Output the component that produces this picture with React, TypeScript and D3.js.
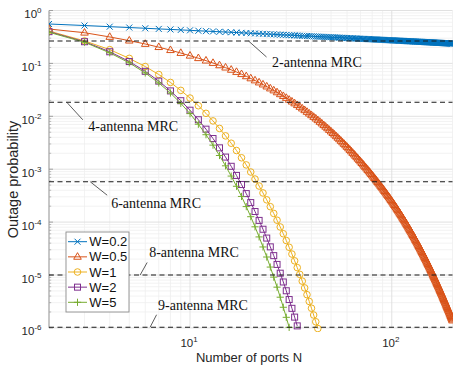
import React from 'react';
import * as d3 from 'd3';

// x axis: number of ports N, one point per integer N starting at 2
const firstPort = 2;

// log10 of the outage probability, N = 2, 3, 4, ...
const logOutW02 = [
  -0.255, -0.284, -0.306, -0.322, -0.336, -0.348, -0.358, -0.367, -0.375,
  -0.383, -0.390, -0.396, -0.402, -0.407, -0.412, -0.417, -0.422, -0.426, -0.430,
  -0.434, -0.438, -0.441, -0.445, -0.448, -0.451, -0.454, -0.457, -0.460, -0.463,
  -0.466, -0.468, -0.471, -0.473, -0.476, -0.478, -0.480, -0.482, -0.485, -0.487,
  -0.489, -0.491, -0.493, -0.495, -0.496, -0.498, -0.500, -0.502, -0.504, -0.505,
  -0.507, -0.508, -0.510, -0.512, -0.513, -0.515, -0.516, -0.518, -0.519, -0.521,
  -0.522, -0.524, -0.525, -0.526, -0.528, -0.529, -0.530, -0.532, -0.533, -0.534,
  -0.535, -0.536, -0.537, -0.538, -0.540, -0.541, -0.542, -0.543, -0.544, -0.545,
  -0.546, -0.547, -0.548, -0.549, -0.550, -0.551, -0.552, -0.553, -0.554, -0.555,
  -0.556, -0.557, -0.558, -0.559, -0.560, -0.560, -0.561, -0.562, -0.563, -0.564,
  -0.565, -0.566, -0.566, -0.567, -0.568, -0.569, -0.570, -0.570, -0.571, -0.572,
  -0.573, -0.574, -0.574, -0.575, -0.576, -0.577, -0.578, -0.578, -0.579, -0.580,
  -0.581, -0.581, -0.582, -0.583, -0.583, -0.584, -0.585, -0.586, -0.586, -0.587,
  -0.588, -0.588, -0.589, -0.589, -0.590, -0.591, -0.591, -0.592, -0.592, -0.593,
  -0.594, -0.594, -0.595, -0.596, -0.596, -0.597, -0.598, -0.598, -0.599, -0.600,
  -0.600, -0.601, -0.601, -0.602, -0.602, -0.603, -0.603, -0.604, -0.604, -0.605,
  -0.606, -0.606, -0.607, -0.607, -0.608, -0.609, -0.609, -0.610, -0.610, -0.611,
  -0.611, -0.612, -0.612, -0.613, -0.613, -0.614, -0.614, -0.615, -0.615, -0.616,
  -0.616, -0.617, -0.617, -0.618, -0.618, -0.619, -0.619, -0.620, -0.620, -0.621,
  -0.621, -0.622, -0.622, -0.623, -0.623, -0.623, -0.624, -0.624, -0.625, -0.625,
];

const logOutW05 = [
  -0.350, -0.420, -0.500, -0.570, -0.633, -0.693, -0.750, -0.804, -0.855,
  -0.902, -0.948, -0.993, -1.037, -1.080, -1.122, -1.163, -1.204, -1.244, -1.284,
  -1.323, -1.362, -1.400, -1.438, -1.475, -1.512, -1.548, -1.584, -1.619, -1.654,
  -1.689, -1.723, -1.757, -1.790, -1.822, -1.854, -1.886, -1.918, -1.950, -1.981,
  -2.013, -2.044, -2.075, -2.106, -2.137, -2.168, -2.198, -2.228, -2.259, -2.289,
  -2.318, -2.348, -2.378, -2.407, -2.436, -2.466, -2.495, -2.523, -2.552, -2.580,
  -2.609, -2.637, -2.665, -2.693, -2.721, -2.748, -2.776, -2.803, -2.830, -2.857,
  -2.884, -2.910, -2.937, -2.963, -2.989, -3.015, -3.041, -3.067, -3.093, -3.118,
  -3.143, -3.168, -3.193, -3.218, -3.243, -3.268, -3.292, -3.316, -3.341, -3.365,
  -3.390, -3.414, -3.438, -3.463, -3.487, -3.511, -3.535, -3.559, -3.583, -3.607,
  -3.631, -3.655, -3.679, -3.703, -3.727, -3.751, -3.775, -3.799, -3.823, -3.846,
  -3.870, -3.894, -3.918, -3.941, -3.965, -3.988, -4.012, -4.035, -4.059, -4.082,
  -4.106, -4.129, -4.153, -4.176, -4.199, -4.223, -4.246, -4.269, -4.292, -4.315,
  -4.339, -4.362, -4.385, -4.408, -4.431, -4.454, -4.477, -4.500, -4.522, -4.545,
  -4.568, -4.591, -4.614, -4.636, -4.659, -4.682, -4.704, -4.727, -4.750, -4.772,
  -4.795, -4.817, -4.840, -4.862, -4.885, -4.907, -4.929, -4.952, -4.974, -4.996,
  -5.018, -5.040, -5.063, -5.085, -5.107, -5.129, -5.151, -5.173, -5.195, -5.217,
  -5.239, -5.261, -5.283, -5.304, -5.326, -5.348, -5.370, -5.391, -5.413, -5.435,
  -5.456, -5.478, -5.499, -5.521, -5.542, -5.564, -5.585, -5.607, -5.628, -5.649,
  -5.671, -5.692, -5.713, -5.734, -5.755, -5.777, -5.798, -5.819, -5.840, -5.861,
];

const logOutW1 = [
  -0.388, -0.575, -0.740, -0.905, -1.060, -1.210, -1.360, -1.510, -1.655,
  -1.800, -1.944, -2.087, -2.229, -2.370, -2.509, -2.647, -2.784, -2.919, -3.053,
  -3.186, -3.318, -3.449, -3.579, -3.708, -3.836, -3.964, -4.092, -4.220, -4.348,
  -4.476, -4.604, -4.732, -4.860, -4.988, -5.116, -5.244, -5.372, -5.500, -5.628,
  -5.756, -5.884, -6.012,
];

const logOutW2 = [
  -0.400, -0.590, -0.780, -0.965, -1.150, -1.335, -1.520, -1.705, -1.885,
  -2.065, -2.243, -2.420, -2.596, -2.771, -2.945, -3.118, -3.290, -3.461, -3.631,
  -3.800, -3.968, -4.135, -4.302, -4.468, -4.634, -4.800, -4.966, -5.132, -5.298,
  -5.464, -5.630, -5.796, -5.962,
];

const logOutW5 = [
  -0.412, -0.600, -0.800, -0.990, -1.180, -1.370, -1.560, -1.755, -1.950,
  -2.150, -2.348, -2.545, -2.741, -2.936, -3.130, -3.323, -3.515, -3.707, -3.898,
  -4.089, -4.280, -4.470, -4.660, -4.850, -5.040, -5.230, -5.420, -5.610, -5.800,
  -5.990,
];

const seriesNames = ['W=0.2', 'W=0.5', 'W=1', 'W=2', 'W=5'];
const seriesValues = [logOutW02, logOutW05, logOutW1, logOutW2, logOutW5];
const seriesColors = ['#0072BD', '#D95319', '#EDB120', '#7E2F8E', '#77AC30'];
const seriesMarkers = ['x', 'triangle', 'circle', 'square', 'plus'];

// MRC reference levels (dashed lines)
const mrcLabels = ['2-antenna MRC', '4-antenna MRC', '6-antenna MRC', '8-antenna MRC', '9-antenna MRC'];
const mrcLevels = [0.265, 0.0184, 5.8e-4, 1.0e-5, 1.03e-6];
const mrcPointerN = [19.5, 2.45, 3.2, 5.66, 6.34];

const xTickValues = [10, 100];
const xTickExps = ['1', '2'];
const yTickValues = [1, 1e-1, 1e-2, 1e-3, 1e-4, 1e-5, 1e-6];
const yTickExps = ['0', '-1', '-2', '-3', '-4', '-5', '-6'];

const W = 453;
const H = 372;
const plot = { left: 49, right: 452.5, top: 10.5, bottom: 327.9 };

// leader line end / text start offsets from the pointer tip, in px
const labelOffsets = [
  { lx: 18, ly: 16, tx: 23.5, ty: 26 },
  { lx: 16, ly: 17.5, tx: 21.5, ty: 28.5 },
  { lx: 17, ly: 13.5, tx: 21, ty: 26 },
  { lx: 7, ly: -12.5, tx: 9, ty: -18.5 },
  { lx: 6.5, ly: -12.5, tx: 8, ty: -17.5 },
];

const sans = '"Liberation Sans", Arial, Helvetica, sans-serif';
const serif = '"Liberation Serif", "Times New Roman", serif';

function Marker({ kind, x, y, color }: { kind: string; x: number; y: number; color: string }) {
  const common = { fill: 'none', stroke: color, strokeWidth: 1 };
  if (kind === 'circle') return <circle cx={x} cy={y} r={3.3} {...common} />;
  if (kind === 'square') return <rect x={x - 3} y={y - 3} width={6} height={6} {...common} />;
  if (kind === 'triangle')
    return <path d={`M${x},${y - 4.2}L${x + 3.8},${y + 2.4}L${x - 3.8},${y + 2.4}Z`} {...common} />;
  if (kind === 'x')
    return <path d={`M${x - 3},${y - 3}L${x + 3},${y + 3}M${x - 3},${y + 3}L${x + 3},${y - 3}`} {...common} />;
  return <path d={`M${x - 3.6},${y}H${x + 3.6}M${x},${y - 3.6}V${y + 3.6}`} {...common} />;
}

export default function App() {
  const x = d3.scaleLog().domain([2, 200]).range([plot.left, plot.right]);
  const y = d3.scaleLog().domain([1e-6, 1]).range([plot.bottom, plot.top]);

  const xMinor: number[] = [];
  [1, 10, 100].forEach((d) => {
    for (let k = 2; k <= 9; k++) {
      const v = k * d;
      if (v > 2 && v < 200) xMinor.push(v);
    }
  });
  const xMinorAll = xMinor.concat([200]);
  const yMinor: number[] = [];
  yTickValues.forEach((d) => {
    for (let k = 2; k <= 9; k++) {
      const v = k * d;
      if (v < 1) yMinor.push(v);
    }
  });

  const series = seriesNames.map((name, i) => ({
    name,
    color: seriesColors[i],
    marker: seriesMarkers[i],
    points: seriesValues[i].map((v, j) => ({ n: firstPort + j, p: Math.pow(10, v) })),
  }));

  const line = d3
    .line<{ n: number; p: number }>()
    .x((d) => x(d.n))
    .y((d) => y(d.p));

  const legend = { x: 66, y: 232, w: 63, h: 80, row: 15.15 };

  return (
    <svg width={W} height={H} style={{ position: 'absolute', left: 0, top: 0, background: '#fff' }}>
      <defs>
        <clipPath id="plot-clip">
          <rect x={plot.left} y={plot.top - 4} width={plot.right - plot.left + 1} height={plot.bottom - plot.top + 8} />
        </clipPath>
      </defs>
      <rect x={0} y={0} width={W} height={H} fill="#fff" />

      {/* minor grid */}
      {xMinorAll.map((v) => (
        <line key={`xm${v}`} x1={x(v)} x2={x(v)} y1={plot.top} y2={plot.bottom} stroke="#efefef" strokeWidth={0.8} />
      ))}
      {yMinor.map((v) => (
        <line key={`ym${v}`} x1={plot.left} x2={plot.right} y1={y(v)} y2={y(v)} stroke="#efefef" strokeWidth={0.8} />
      ))}
      {/* major grid */}
      {xTickValues.map((v) => (
        <line key={`xg${v}`} x1={x(v)} x2={x(v)} y1={plot.top} y2={plot.bottom} stroke="#dedede" strokeWidth={0.9} />
      ))}
      {yTickValues.map((v) => (
        <line key={`yg${v}`} x1={plot.left} x2={plot.right} y1={y(v)} y2={y(v)} stroke="#dedede" strokeWidth={0.9} />
      ))}

      {/* left axis */}
      <line x1={plot.left} x2={plot.left} y1={plot.top} y2={plot.bottom} stroke="#8f8f8f" strokeWidth={1} />
      {yTickValues.map((v) => (
        <line key={`yt${v}`} x1={plot.left} x2={plot.left + 4} y1={y(v)} y2={y(v)} stroke="#8f8f8f" strokeWidth={0.8} />
      ))}
      {yMinor.map((v) => (
        <line key={`ymt${v}`} x1={plot.left} x2={plot.left + 2.2} y1={y(v)} y2={y(v)} stroke="#a0a0a0" strokeWidth={0.7} />
      ))}

      {/* series */}
      <g clipPath="url(#plot-clip)">
        {series.map((s) => (
          <g key={s.name}>
            <path d={line(s.points) || ''} fill="none" stroke={s.color} strokeWidth={1} />
            {s.points.map((d) => (
              <Marker key={d.n} kind={s.marker} x={x(d.n)} y={y(d.p)} color={s.color} />
            ))}
          </g>
        ))}
      </g>

      {/* MRC reference lines */}
      {mrcLevels.map((v, i) => (
        <line
          key={`mrc${i}`}
          x1={plot.left}
          x2={plot.right}
          y1={y(v)}
          y2={y(v)}
          stroke="#1a1a1a"
          strokeWidth={1.1}
          strokeDasharray="5,3.5"
        />
      ))}
      {mrcLabels.map((label, i) => {
        const px = x(mrcPointerN[i]);
        const py = y(mrcLevels[i]);
        const o = labelOffsets[i];
        return (
          <g key={label}>
            <line x1={px} y1={py} x2={px + o.lx} y2={py + o.ly} stroke="#333" strokeWidth={0.8} />
            <text x={px + o.tx} y={py + o.ty} fontFamily={serif} fontSize={14} fill="#111">
              {label}
            </text>
          </g>
        );
      })}

      {/* tick labels */}
      {yTickValues.map((v, i) => (
        <text key={`yl${v}`} x={41.5} y={y(v) + 7.5} textAnchor="end" fontFamily={sans} fontSize={11.5} fill="#262626">
          10
          <tspan dy={-5} fontSize={8}>
            {yTickExps[i]}
          </tspan>
        </text>
      ))}
      {xTickValues.map((v, i) => (
        <text key={`xl${v}`} x={x(v) - 1} y={347} textAnchor="middle" fontFamily={sans} fontSize={11.5} fill="#262626">
          10
          <tspan dy={-5} fontSize={8}>
            {xTickExps[i]}
          </tspan>
        </text>
      ))}

      {/* axis labels */}
      <text x={249} y={362} textAnchor="middle" fontFamily={sans} fontSize={13} fill="#262626">
        Number of ports N
      </text>
      <text
        transform={`translate(18,179.5) rotate(-90)`}
        textAnchor="middle"
        fontFamily={sans}
        fontSize={14.5}
        fill="#262626"
      >
        Outage probability
      </text>

      {/* legend */}
      <rect x={legend.x} y={legend.y} width={legend.w} height={legend.h} fill="#fff" stroke="#8c8c8c" strokeWidth={0.9} />
      {series.map((s, i) => {
        const ly = legend.y + 9.7 + i * legend.row;
        return (
          <g key={`lg${s.name}`}>
            <line x1={legend.x + 2} x2={legend.x + 21} y1={ly} y2={ly} stroke={s.color} strokeWidth={1} />
            <Marker kind={s.marker} x={legend.x + 11.5} y={ly} color={s.color} />
            <text x={legend.x + 23.3} y={ly + 4.6} fontFamily={sans} fontSize={13} fill="#111">
              {s.name}
            </text>
          </g>
        );
      })}
    </svg>
  );
}
